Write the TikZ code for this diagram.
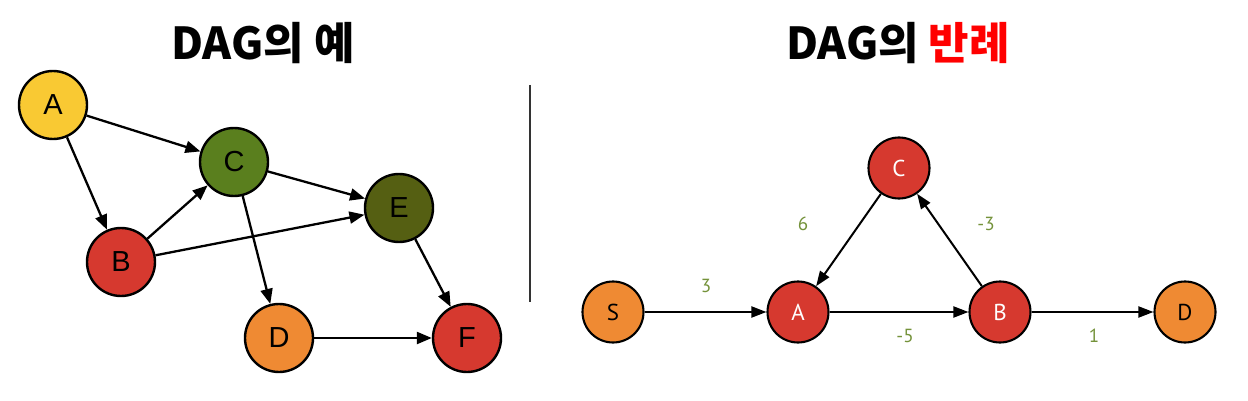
\documentclass[tikz,border=0pt]{standalone}
\usepackage{fontspec}
\setmainfont{Liberation Sans}
\newfontfamily\kr{Noto Sans CJK KR}
\newfontfamily\lab{PT Sans}
\usetikzlibrary{arrows.meta}
\definecolor{cyellow}{HTML}{F9C933}
\definecolor{cgreen}{HTML}{5A7F1E}
\definecolor{colive}{HTML}{555F12}
\definecolor{cred}{HTML}{D6392F}
\definecolor{corange}{HTML}{EF8A33}
\definecolor{labgreen}{HTML}{74923A}
\definecolor{titlered}{HTML}{FF0000}
\begin{document}
\begin{tikzpicture}[x=1pt,y=-1pt,
  lnode/.style={circle,draw=black,line width=2.4pt,minimum size=68pt,inner sep=0pt,font=\fontsize{29}{29}\selectfont},
  rnode/.style={circle,draw=black,line width=2.1pt,minimum size=61pt,inner sep=0pt,font=\lab\fontsize{23}{23}\selectfont},
  ledge/.style={-{Triangle[length=15pt,width=12pt]},line width=2.3pt},
  redge/.style={-{Triangle[length=15pt,width=11pt]},line width=2pt},
  wlab/.style={text=labgreen,font=\lab\fontsize{19}{19}\selectfont},
  title/.style={font=\kr\bfseries\fontsize{44}{44}\selectfont}]
\useasboundingbox (0,0) rectangle (1248,401);
% titles
\node[title] (t1) at (263,43) {DAG의 예};
\node[title] (t2) at (898,43) {DAG의 \textcolor{titlered}{반례}};
% divider
\coordinate (d1) at (530,85);
\coordinate (d2) at (530,302);
\draw[line width=1.2pt,black!80] (d1) -- (d2);
% left graph
\node[lnode,fill=cyellow] (A) at (53,105) {A};
\node[lnode,fill=cgreen] (C) at (234,162) {C};
\node[lnode,fill=cred] (B) at (121,262) {B};
\node[lnode,fill=colive] (E) at (399,208) {E};
\node[lnode,fill=corange] (D) at (279,338) {D};
\node[lnode,fill=cred] (F) at (467,338) {F};
\draw[ledge] (A) -- (C);
\draw[ledge] (A) -- (B);
\draw[ledge] (B) -- (C);
\draw[ledge] (B) -- (E);
\draw[ledge] (C) -- (E);
\draw[ledge] (C) -- (D);
\draw[ledge] (E) -- (F);
\draw[ledge] (D) -- (F);
% right graph
\node[rnode,fill=corange] (S) at (613,312) {S};
\node[rnode,fill=cred,text=white] (RA) at (798,312) {A};
\node[rnode,fill=cred,text=white] (RB) at (1000,312) {B};
\node[rnode,fill=corange] (RD) at (1185,312) {D};
\node[rnode,fill=cred,text=white] (RC) at (899,168) {C};
\draw[redge] (S) -- (RA);
\draw[redge] (RA) -- (RB);
\draw[redge] (RB) -- (RD);
\draw[redge] (RC) -- (RA);
\draw[redge] (RB) -- (RC);
\node[wlab] (l3) at (706,286) {3};
\node[wlab] (l5) at (905,336) {-5};
\node[wlab] (l1) at (1094,336) {1};
\node[wlab] (l6) at (803,224) {6};
\node[wlab] (lm3) at (986,224) {-3};
\end{tikzpicture}
\end{document}
